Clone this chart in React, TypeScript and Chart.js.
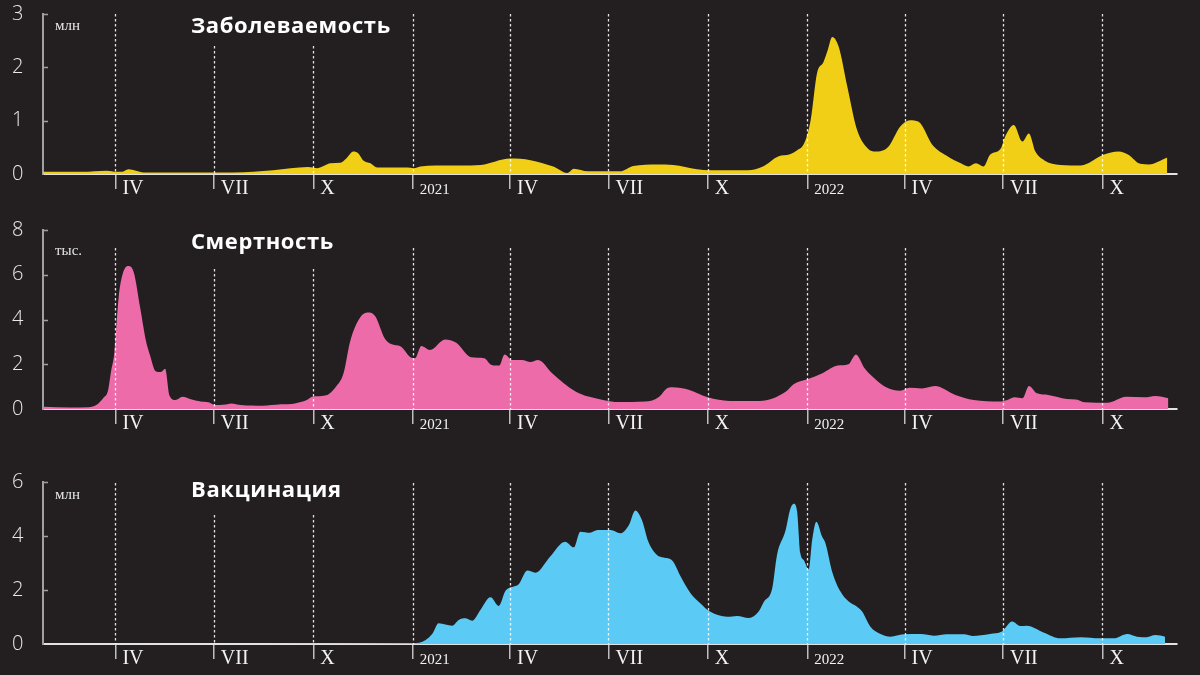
import React, { useEffect, useRef } from 'react';
import { Chart, registerables } from 'chart.js';

Chart.register(...registerables);

const BG = '#231f20';

// x values are days since 2020-01-01
const quarterTicks = [91, 182, 274, 366, 456, 547, 639, 731, 821, 912, 1004];
const quarterLabels = ['IV', 'VII', 'X', '2021', 'IV', 'VII', 'X', '2022', 'IV', 'VII', 'X'];

const casesDays = [24, 60, 83, 92, 97, 103, 110, 117, 200, 237, 269, 278, 290, 299, 305, 311, 316, 320, 327, 333, 361, 367, 373, 387, 410, 429, 456, 475, 496, 509, 515, 528, 558, 570, 592, 607, 629, 641, 676, 690, 704, 715, 722, 728, 734, 740, 746, 750, 754, 760, 768, 777, 787, 794, 806, 817, 826, 834, 847, 861, 873, 880, 887, 894, 900, 910, 914, 922, 930, 936, 942, 950, 965, 984, 1005, 1019, 1028, 1039, 1047, 1064];
const casesValues = [0.04, 0.04, 0.06, 0.04, 0.04, 0.09, 0.06, 0.03, 0.03, 0.07, 0.13, 0.11, 0.2, 0.21, 0.3, 0.42, 0.38, 0.26, 0.2, 0.12, 0.12, 0.11, 0.14, 0.16, 0.16, 0.17, 0.29, 0.26, 0.14, 0.02, 0.1, 0.05, 0.05, 0.15, 0.18, 0.17, 0.09, 0.07, 0.07, 0.14, 0.33, 0.37, 0.45, 0.57, 1.0, 1.89, 2.1, 2.33, 2.57, 2.39, 1.64, 0.83, 0.48, 0.42, 0.51, 0.89, 1.01, 0.98, 0.54, 0.33, 0.2, 0.14, 0.2, 0.14, 0.36, 0.48, 0.7, 0.92, 0.61, 0.76, 0.42, 0.26, 0.17, 0.16, 0.36, 0.42, 0.36, 0.19, 0.18, 0.31];

const deathsDays = [24, 49, 66, 74, 80, 84, 87, 90, 94, 97.5, 103, 108, 114, 119, 123, 128, 133, 137, 141, 146.5, 153, 160, 170, 177, 183, 193, 198, 207, 227, 244, 257, 268, 273, 285, 295, 302, 308, 318, 326, 331.5, 340, 346, 355, 364, 368, 374, 382, 396, 406, 420, 432, 439, 446, 451, 458, 467, 475, 482, 495, 517, 540, 557, 581, 594, 601, 606, 622, 639, 659, 687, 711, 718, 731, 745, 759, 769, 776, 784, 793, 803, 817, 825.5, 837, 849, 868, 885, 909, 916, 923, 930, 936, 943.5, 954, 971, 979.5, 988, 1008.5, 1026, 1043, 1053, 1065];
const deathsValues = [0.1, 0.07, 0.08, 0.2, 0.5, 0.8, 1.7, 2.5, 5.0, 6.0, 6.39, 6.1, 4.5, 3.1, 2.4, 1.7, 1.65, 1.8, 0.6, 0.4, 0.55, 0.45, 0.33, 0.3, 0.18, 0.2, 0.25, 0.18, 0.15, 0.21, 0.25, 0.4, 0.55, 0.6, 1.0, 1.6, 3.0, 4.13, 4.31, 4.13, 3.16, 2.9, 2.79, 2.31, 2.27, 2.82, 2.64, 3.11, 2.97, 2.31, 2.27, 1.97, 1.94, 2.44, 2.19, 2.19, 2.1, 2.19, 1.6, 0.77, 0.43, 0.31, 0.33, 0.55, 0.92, 0.97, 0.85, 0.52, 0.36, 0.36, 0.77, 1.1, 1.33, 1.6, 1.94, 2.0, 2.44, 1.82, 1.37, 1.0, 0.82, 0.95, 0.92, 1.03, 0.63, 0.4, 0.33, 0.4, 0.52, 0.48, 1.03, 0.7, 0.63, 0.45, 0.43, 0.3, 0.28, 0.55, 0.52, 0.58, 0.48];

const vaccDays = [24, 200, 260, 320, 366, 372, 384, 390, 402.5, 408.6, 415, 421, 428.6, 438, 445.6, 452, 464, 472, 479.5, 493, 507, 515, 521, 530, 537, 549, 558, 566, 572, 578, 584, 592, 598, 606, 614, 623, 632, 641, 657, 666, 677, 686, 691, 698.5, 703, 711, 715, 718.5, 721.6, 724.6, 727.7, 732.3, 735.5, 739.4, 744.7, 747.8, 754, 761.7, 769.3, 777, 781.7, 789.4, 798.7, 808, 820, 836, 848, 860, 876, 883.5, 900, 911, 920.5, 928, 934, 950, 965, 984, 1002, 1014.5, 1027, 1036, 1045, 1053, 1062];
const vaccValues = [0, 0, 0.01, 0.02, 0.04, 0.05, 0.37, 0.77, 0.68, 0.89, 0.95, 0.86, 1.26, 1.73, 1.41, 1.98, 2.21, 2.72, 2.64, 3.23, 3.79, 3.58, 4.16, 4.12, 4.22, 4.22, 4.1, 4.41, 4.94, 4.59, 3.79, 3.3, 3.2, 3.09, 2.49, 1.88, 1.51, 1.2, 1.01, 1.04, 0.96, 1.2, 1.57, 2.06, 3.3, 4.22, 4.96, 5.19, 4.9, 3.36, 3.11, 2.77, 3.85, 4.53, 3.98, 3.73, 2.68, 1.94, 1.57, 1.38, 1.2, 0.64, 0.37, 0.27, 0.36, 0.37, 0.31, 0.36, 0.36, 0.3, 0.37, 0.46, 0.83, 0.67, 0.68, 0.42, 0.21, 0.25, 0.21, 0.21, 0.37, 0.27, 0.25, 0.33, 0.27];

const X_MIN = 24;
const X_MAX = 1073;

const decorPlugin = {
  id: 'decor',
  afterDatasetsDraw(chart: any, _args: any, opts: any) {
    const { ctx, chartArea, scales } = chart;
    const x = scales.x;
    const y = scales.y;
    ctx.save();
    ctx.strokeStyle = 'rgba(255,255,255,0.88)';
    ctx.lineWidth = 1.3;
    ctx.setLineDash([2.5, 2.5]);
    quarterTicks.forEach((d, i) => {
      const px = Math.round(x.getPixelForValue(d)) + 0.5;
      const top = opts.shortIdx.includes(i) ? opts.shortTop : opts.tallTop;
      ctx.beginPath();
      ctx.moveTo(px, top);
      ctx.lineTo(px, chartArea.bottom);
      ctx.stroke();
    });
    ctx.setLineDash([]);
    ctx.strokeStyle = '#a0a0a0';
    ctx.lineWidth = 1.5;
    y.ticks.forEach((t: any) => {
      if (t.value === 0) return;
      const py = Math.round(y.getPixelForValue(t.value)) + 0.5;
      ctx.beginPath();
      ctx.moveTo(chartArea.left, py);
      ctx.lineTo(chartArea.left + 5, py);
      ctx.stroke();
    });
    ctx.fillStyle = '#ffffff';
    ctx.textAlign = 'left';
    ctx.textBaseline = 'alphabetic';
    ctx.font = 'bold 22px "Open Sans"';
    try { (ctx as any).letterSpacing = '0.6px'; } catch (e) {}
    ctx.fillText(opts.title, 191, opts.titleBaseline);
    try { (ctx as any).letterSpacing = '0px'; } catch (e) {}
    ctx.fillStyle = '#e6e6e6';
    ctx.font = '15px "Liberation Serif"';
    ctx.fillText(opts.unit, 55, opts.unitBaseline);
    ctx.restore();
  },
};

type PanelProps = {
  top: number;
  height: number;
  padTop: number;
  days: number[];
  values: number[];
  color: string;
  yMax: number;
  yStep: number;
  title: string;
  unit: string;
  titleBaseline: number;
  unitBaseline: number;
  tallTop: number;
  shortTop: number;
};

function Panel(p: PanelProps) {
  const ref = useRef<HTMLCanvasElement | null>(null);
  useEffect(() => {
    if (!ref.current) return;
    const data = p.days.map((d, i) => ({ x: d, y: p.values[i] }));
    const chart = new Chart(ref.current, {
      type: 'line',
      data: {
        datasets: [
          {
            data,
            fill: 'origin',
            backgroundColor: p.color,
            borderWidth: 0,
            borderColor: p.color,
            pointRadius: 0,
            cubicInterpolationMode: 'monotone',
          },
        ],
      },
      options: {
        responsive: false,
        maintainAspectRatio: false,
        animation: false,
        events: [],
        layout: { padding: { top: p.padTop, left: 12, right: 23, bottom: 0 } },
        plugins: {
          legend: { display: false },
          tooltip: { enabled: false },
          decor: {
            title: p.title,
            unit: p.unit,
            titleBaseline: p.titleBaseline,
            unitBaseline: p.unitBaseline,
            tallTop: p.tallTop,
            shortTop: p.shortTop,
            shortIdx: [1, 2],
          },
        } as any,
        scales: {
          x: {
            type: 'linear',
            min: X_MIN,
            max: X_MAX,
            z: 1,
            afterBuildTicks: (s: any) => {
              s.ticks = quarterTicks.map((v) => ({ value: v }));
            },
            afterFit: (s: any) => {
              s.height = 31;
            },
            grid: {
              display: true,
              drawOnChartArea: false,
              drawTicks: true,
              tickLength: 15,
              color: '#bdbdbd',
              lineWidth: 1.5,
            },
            border: { display: true, color: '#e2e2e2', width: 2 },
            ticks: {
              autoSkip: false,
              maxRotation: 0,
              minRotation: 0,
              align: 'start',
              labelOffset: 7,
              padding: -10,
              color: '#f2f2f2',
              font: (c: any) =>
                quarterLabels[c.index] && quarterLabels[c.index].length === 4
                  ? { family: '"Liberation Serif"', size: 15, lineHeight: '23px' }
                  : { family: '"Liberation Serif"', size: 20, lineHeight: '20px' },
              callback: (_v: any, i: number) => quarterLabels[i],
            },
          } as any,
          y: {
            min: 0,
            max: p.yMax,
            z: 1,
            afterFit: (s: any) => {
              s.width = 31;
            },
            grid: { display: false, drawTicks: false },
            border: { display: true, color: '#a0a0a0', width: 2 },
            ticks: {
              stepSize: p.yStep,
              padding: 0,
              crossAlign: 'far',
              color: '#e8e8e8',
              font: { family: '"Open Sans"', size: 20, weight: '300' as any, lineHeight: 1.2 },
            },
          } as any,
        },
      },
      plugins: [decorPlugin],
    } as any);
    return () => chart.destroy();
  }, []);
  return (
    <canvas
      ref={ref}
      width={1200}
      height={p.height}
      style={{ position: 'absolute', left: 0, top: p.top, width: 1200, height: p.height, display: 'block' }}
    />
  );
}

export default function App() {
  return (
    <div
      style={{
        position: 'fixed',
        left: 0,
        top: 0,
        width: 1200,
        height: 675,
        background: BG,
        overflow: 'hidden',
      }}
    >
      <Panel
        top={0}
        height={205}
        padTop={14}
        days={casesDays}
        values={casesValues}
        color="#f1cf16"
        yMax={3}
        yStep={1}
        title="Заболеваемость"
        unit="млн"
        titleBaseline={32.5}
        unitBaseline={29.5}
        tallTop={14}
        shortTop={46}
      />
      <Panel
        top={205}
        height={235}
        padTop={25}
        days={deathsDays}
        values={deathsValues}
        color="#ec6ba8"
        yMax={8}
        yStep={2}
        title="Смертность"
        unit="тыс."
        titleBaseline={44}
        unitBaseline={50}
        tallTop={43}
        shortTop={64}
      />
      <Panel
        top={440}
        height={235}
        padTop={42}
        days={vaccDays}
        values={vaccValues}
        color="#5bcbf5"
        yMax={6}
        yStep={2}
        title="Вакцинация"
        unit="млн"
        titleBaseline={57}
        unitBaseline={59}
        tallTop={43}
        shortTop={75}
      />
    </div>
  );
}
